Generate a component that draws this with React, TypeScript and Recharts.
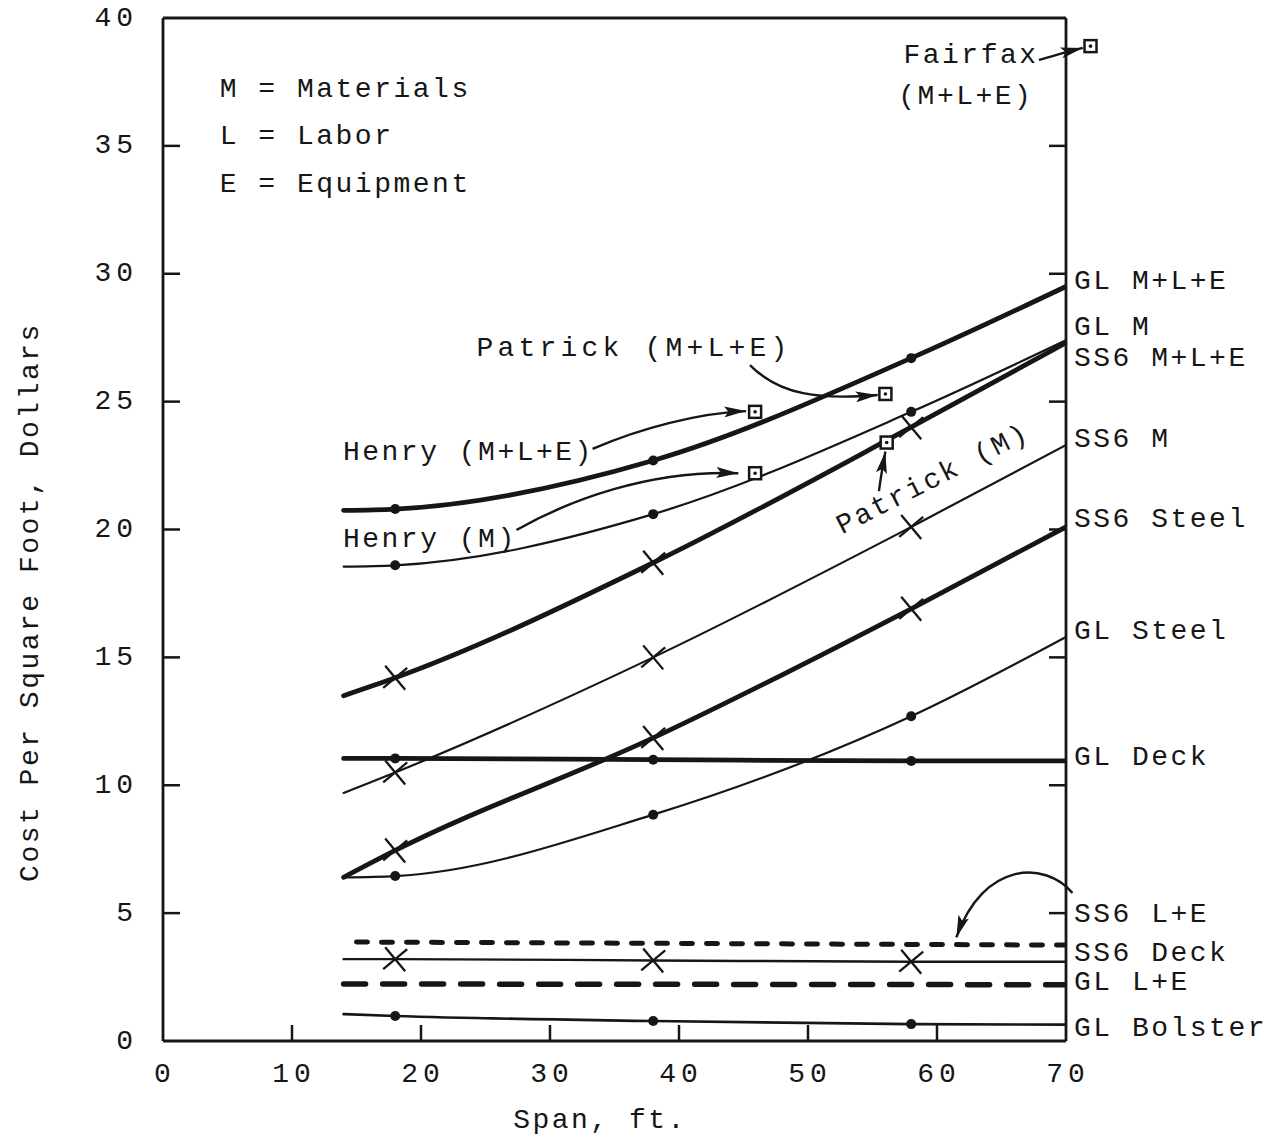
import React from 'react';
import { ComposedChart, Line, XAxis, YAxis, ReferenceDot } from 'recharts';

const W = 1273;
const H = 1140;
const PLOT = { left: 163, top: 18, right: 1066, bottom: 1041 };
const X_MAX = 70;
const Y_MAX = 40;
const INK = '#161616';
const FONT = '"Liberation Mono", "DejaVu Sans Mono", monospace';

// span (ft) where the curves are sampled, and where the markers sit
const SPAN = [14, 18, 38, 58, 70];
const MARKER_SPANS = [18, 38, 58];
const X_TICKS = [0, 10, 20, 30, 40, 50, 60, 70];
const Y_TICKS = [0, 5, 10, 15, 20, 25, 30, 35, 40];

// cost per square foot, dollars
const glTotal = [20.75, 20.8, 22.7, 26.7, 29.5];
const glMaterials = [18.55, 18.6, 20.6, 24.6, 27.4];
const ss6Total = [13.5, 14.2, 18.7, 24.0, 27.3];
const ss6Materials = [9.7, 10.5, 15.0, 20.1, 23.3];
const ss6Steel = [6.4, 7.45, 11.85, 16.9, 20.1];
const glSteel = [6.4, 6.45, 8.85, 12.7, 15.8];
const glDeck = [11.05, 11.05, 11.0, 10.95, 10.95];
const ss6Deck = [3.2, 3.2, 3.15, 3.1, 3.1];
const glBolster = [1.05, 0.98, 0.78, 0.66, 0.64];
const ss6LaborSpan = [15, 70];
const ss6Labor = [3.87, 3.75];
const glLaborSpan = [14, 70];
const glLabor = [2.23, 2.2];

// single bridges (square markers)
const bridgeSpan = [45.9, 45.9, 56.0, 56.1, 71.9];
const bridgeCost = [24.6, 22.2, 25.3, 23.4, 38.9];

// labels to the right of the frame
const labelNames = ['GL M+L+E', 'GL M', 'SS6 M+L+E', 'SS6 M', 'SS6 Steel', 'GL Steel', 'GL Deck', 'SS6 L+E', 'SS6 Deck', 'GL L+E', 'GL Bolster'];
const labelCost = [29.7, 27.9, 26.7, 23.5, 20.4, 16.0, 11.07, 4.93, 3.44, 2.3, 0.47];

type Row = { span: number; cost: number };
const rows = (span: number[], cost: number[]): Row[] => span.map((s, i) => ({ span: s, cost: cost[i] }));

const SERIES = [
  { id: 'glTotal', data: rows(SPAN, glTotal), width: 4.8, marker: 'dot' },
  { id: 'glMaterials', data: rows(SPAN, glMaterials), width: 2.2, marker: 'dot' },
  { id: 'ss6Total', data: rows(SPAN, ss6Total), width: 4.8, marker: 'x' },
  { id: 'ss6Materials', data: rows(SPAN, ss6Materials), width: 2.2, marker: 'x' },
  { id: 'ss6Steel', data: rows(SPAN, ss6Steel), width: 4.8, marker: 'x' },
  { id: 'glSteel', data: rows(SPAN, glSteel), width: 2.2, marker: 'dot' },
  { id: 'glDeck', data: rows(SPAN, glDeck), width: 4.8, marker: 'dot' },
  { id: 'ss6Deck', data: rows(SPAN, ss6Deck), width: 2.4, marker: 'x' },
  { id: 'glBolster', data: rows(SPAN, glBolster), width: 2.6, marker: 'dot' },
  { id: 'ss6Labor', data: rows(ss6LaborSpan, ss6Labor), width: 5, marker: 'none', dash: '11 14' },
  { id: 'glLabor', data: rows(glLaborSpan, glLabor), width: 5.5, marker: 'none', dash: '22 17' },
];

// scale helpers for the annotations (same range as the chart's plot area)
const sx = (v: number) => PLOT.left + (v / X_MAX) * (PLOT.right - PLOT.left);
const sy = (v: number) => PLOT.bottom - (v / Y_MAX) * (PLOT.bottom - PLOT.top);

type Note = { text: string; span: number; cost: number; anchor?: string; rotate?: number; spacing?: number };
const NOTES: Note[] = [
  { text: 'M = Materials', span: 4.4, cost: 37.2 },
  { text: 'L = Labor', span: 4.4, cost: 35.35 },
  { text: 'E = Equipment', span: 4.4, cost: 33.5 },
  { text: 'Fairfax', span: 57.4, cost: 38.55 },
  { text: '(M+L+E)', span: 57.0, cost: 36.95 },
  { text: 'Patrick (M+L+E)', span: 24.3, cost: 27.06, spacing: 4.2 },
  { text: 'Henry (M+L+E)', span: 13.95, cost: 23.0 },
  { text: 'Henry (M)', span: 13.95, cost: 19.6 },
  { text: 'Patrick (M)', span: 59.7, cost: 21.95, anchor: 'middle', rotate: -27 },
];

type Arrow = { from: number[]; c1: number[]; c2: number[]; to: number[] };
const ARROWS: Arrow[] = [
  { from: [33.3, 23.15], c1: [37.0, 23.97], c2: [41.6, 24.56], to: [45.2, 24.63] },
  { from: [27.4, 19.98], c1: [31.5, 21.15], c2: [37.7, 22.33], to: [44.6, 22.2] },
  { from: [45.5, 26.43], c1: [47.8, 25.26], c2: [50.9, 25.06], to: [55.4, 25.26] },
  { from: [55.5, 21.5], c1: [55.6, 21.9], c2: [55.8, 22.5], to: [56.0, 23.05] },
  { from: [67.9, 38.36], c1: [68.9, 38.5], c2: [70.2, 38.7], to: [71.3, 38.83] },
  { from: [70.5, 5.79], c1: [68.4, 7.05], c2: [63.6, 7.05], to: [61.5, 4.05] },
];

const textStyle = { fontFamily: FONT, fontSize: 28, letterSpacing: 2.5, fill: INK };

const renderMarker = (kind: string) => (props: any) => {
  const { cx, cy, payload, index } = props;
  if (kind === 'none' || !MARKER_SPANS.includes(payload.span)) return <g key={index} />;
  if (kind === 'dot') return <circle key={index} cx={cx} cy={cy} r={5} fill={INK} />;
  return (
    <g key={index} stroke={INK} strokeWidth={2.3}>
      <line x1={cx - 10} y1={cy - 12} x2={cx + 10} y2={cy + 12} />
      <line x1={cx - 12} y1={cy + 10} x2={cx + 12} y2={cy - 10} />
    </g>
  );
};

const BridgeSquare = (props: any) => {
  const { cx, cy } = props;
  return (
    <g>
      <rect x={cx - 6} y={cy - 6} width={12} height={12} fill="#fff" stroke={INK} strokeWidth={2.5} />
      <circle cx={cx} cy={cy} r={1.8} fill={INK} />
    </g>
  );
};

const LeftTick = (props: any) => {
  const { x, y, payload } = props;
  const edge = payload.value === 0 || payload.value === Y_MAX;
  return (
    <g>
      {!edge && <line x1={PLOT.left} x2={PLOT.left + 17} y1={y} y2={y} stroke={INK} strokeWidth={2.5} />}
      <text x={x} y={y} textAnchor="end" dominantBaseline="central" {...textStyle} letterSpacing={5}>
        {payload.value}
      </text>
    </g>
  );
};

const RightTick = (props: any) => {
  const { y, payload } = props;
  if (payload.value === 0 || payload.value === Y_MAX) return <g />;
  return <line x1={PLOT.right} x2={PLOT.right - 17} y1={y} y2={y} stroke={INK} strokeWidth={2.5} />;
};

const BottomTick = (props: any) => {
  const { x, y, payload } = props;
  const edge = payload.value === 0 || payload.value === X_MAX;
  return (
    <g>
      {!edge && <line x1={x} x2={x} y1={PLOT.bottom} y2={PLOT.bottom - 16} stroke={INK} strokeWidth={2.5} />}
      <text x={x + 2} y={y} textAnchor="middle" {...textStyle} letterSpacing={5}>
        {payload.value}
      </text>
    </g>
  );
};

const TopTick = (props: any) => {
  const { x, payload } = props;
  if (payload.value === 0 || payload.value === X_MAX) return <g />;
  return <line x1={x} x2={x} y1={PLOT.top} y2={PLOT.top + 16} stroke={INK} strokeWidth={2.5} />;
};

const Annotations: React.FC = () => (
  <svg width={W} height={H} style={{ position: 'absolute', left: 0, top: 0, pointerEvents: 'none' }}>
    <defs>
      <marker id="head" viewBox="0 0 20 10" refX={20} refY={5} markerWidth={22} markerHeight={11} markerUnits="userSpaceOnUse" orient="auto">
        <path d="M0,0 L20,5 L0,10 L4,5 z" fill={INK} />
      </marker>
    </defs>
    {ARROWS.map((a, i) => (
      <path
        key={i}
        d={`M${sx(a.from[0])},${sy(a.from[1])} C${sx(a.c1[0])},${sy(a.c1[1])} ${sx(a.c2[0])},${sy(a.c2[1])} ${sx(a.to[0])},${sy(a.to[1])}`}
        fill="none"
        stroke={INK}
        strokeWidth={2.4}
        markerEnd="url(#head)"
      />
    ))}
    {NOTES.map((n) => {
      const x = sx(n.span);
      const y = sy(n.cost);
      return (
        <text
          key={n.text}
          x={x}
          y={y}
          textAnchor={n.anchor || 'start'}
          dominantBaseline="central"
          transform={n.rotate ? `rotate(${n.rotate} ${x} ${y})` : undefined}
          {...textStyle}
          letterSpacing={n.spacing ?? textStyle.letterSpacing}
        >
          {n.text}
        </text>
      );
    })}
    {labelNames.map((name, i) => (
      <text key={name} x={PLOT.right + 8} y={sy(labelCost[i])} dominantBaseline="central" {...textStyle}>
        {name}
      </text>
    ))}
    <text
      x={30}
      y={602}
      textAnchor="middle"
      dominantBaseline="central"
      transform="rotate(-90 30 602)"
      {...textStyle}
    >
      Cost Per Square Foot, Dollars
    </text>
    <text x={600} y={1120} textAnchor="middle" dominantBaseline="central" {...textStyle}>
      Span, ft.
    </text>
  </svg>
);

const App: React.FC = () => {
  return (
    <div style={{ position: 'absolute', left: 0, top: 0, width: W, height: H, background: '#fff' }}>
      <ComposedChart width={W} height={H} margin={{ top: 8, right: 0, bottom: 0, left: 0 }}>
        <XAxis
          dataKey="span"
          type="number"
          domain={[0, X_MAX]}
          ticks={X_TICKS}
          allowDataOverflow
          height={99}
          tickSize={0}
          tickMargin={41}
          tick={<BottomTick />}
          axisLine={{ stroke: INK, strokeWidth: 2.8 }}
        />
        <XAxis
          xAxisId="top"
          orientation="top"
          type="number"
          domain={[0, X_MAX]}
          ticks={X_TICKS}
          allowDataOverflow
          height={10}
          tickSize={0}
          tick={<TopTick />}
          axisLine={{ stroke: INK, strokeWidth: 2.8 }}
        />
        <YAxis
          type="number"
          domain={[0, Y_MAX]}
          ticks={Y_TICKS}
          allowDataOverflow
          width={163}
          tickSize={0}
          tickMargin={25}
          tick={<LeftTick />}
          axisLine={{ stroke: INK, strokeWidth: 2.8 }}
        />
        <YAxis
          yAxisId="right"
          orientation="right"
          type="number"
          domain={[0, Y_MAX]}
          ticks={Y_TICKS}
          allowDataOverflow
          width={207}
          tickSize={0}
          tick={<RightTick />}
          axisLine={{ stroke: INK, strokeWidth: 2.8 }}
        />
        {SERIES.map((s) => (
          <Line
            key={s.id}
            data={s.data}
            dataKey="cost"
            type="monotone"
            stroke={INK}
            strokeWidth={s.width}
            strokeDasharray={s.dash}
            strokeLinecap="round"
            dot={renderMarker(s.marker)}
            activeDot={false}
            isAnimationActive={false}
          />
        ))}
        {bridgeSpan.map((span, i) => (
          <ReferenceDot key={i} x={span} y={bridgeCost[i]} ifOverflow="visible" shape={BridgeSquare} />
        ))}
      </ComposedChart>
      <Annotations />
    </div>
  );
};

export default App;
